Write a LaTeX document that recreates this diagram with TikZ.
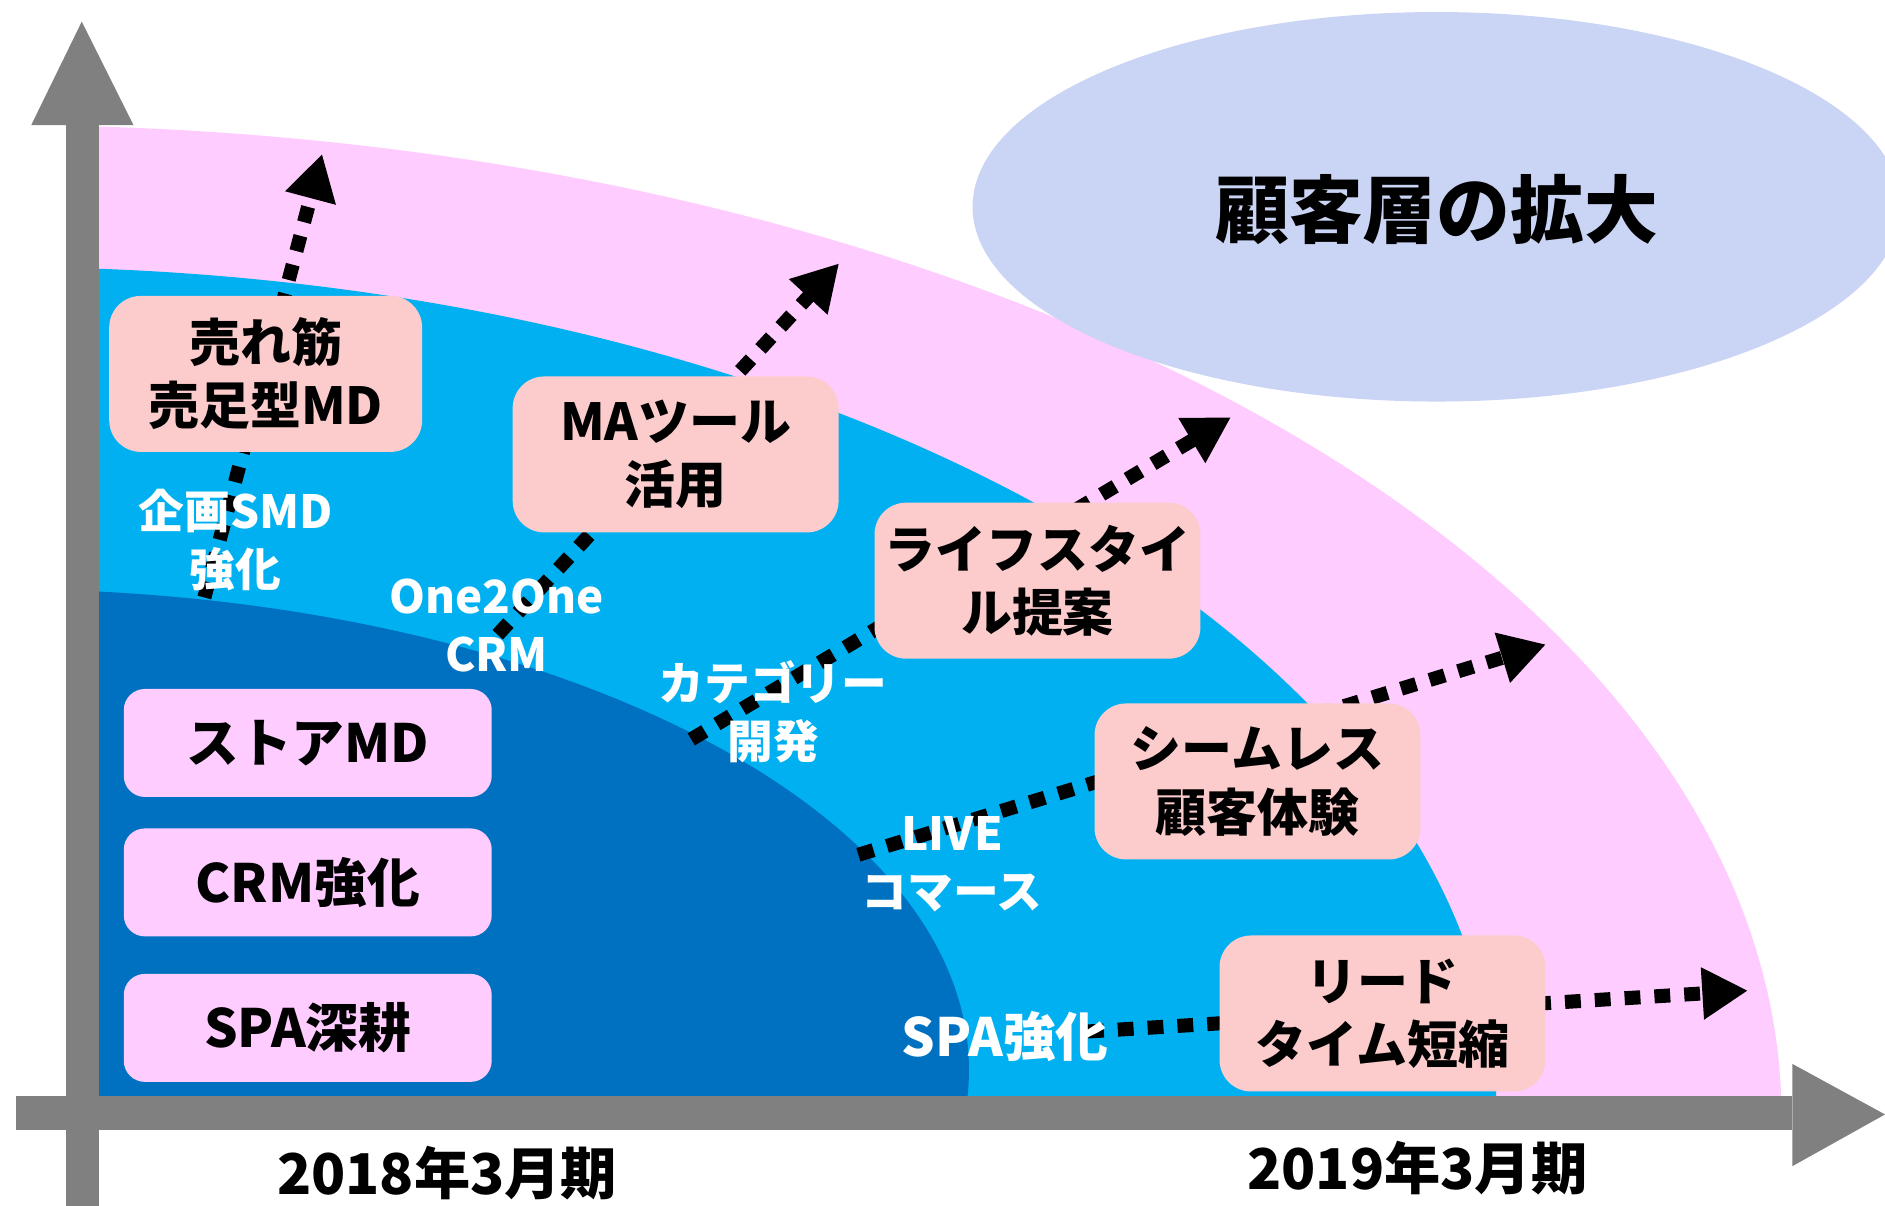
\documentclass[tikz,border=0pt]{standalone}
\usepackage{fontspec}
\setmainfont{Noto Sans CJK JP}[BoldFont={Noto Sans CJK JP Black}]
\usetikzlibrary{arrows.meta}
\definecolor{pinkband}{RGB}{255,204,255}
\definecolor{skyband}{RGB}{0,176,240}
\definecolor{deepband}{RGB}{0,112,192}
\definecolor{salmonbox}{RGB}{252,204,204}
\definecolor{axisgray}{RGB}{128,128,128}
\definecolor{cloudblue}{RGB}{202,212,244}
\begin{document}
\begin{tikzpicture}[x=0.012022cm, y=-0.012022cm,
    plan/.style={rounded corners=9pt, fill=salmonbox, minimum width=32.6mm, minimum height=15.6mm,
      inner xsep=1pt, align=center, font=\bfseries\fontsize{14.5pt}{18pt}\selectfont},
    base/.style={rounded corners=6pt, fill=pinkband, minimum width=36.8mm, minimum height=10.8mm,
      font=\bfseries\fontsize{15pt}{18pt}\selectfont},
    theme/.style={text=white, align=center, font=\bfseries\fontsize{13pt}{16.5pt}\selectfont},
    period/.style={font=\bfseries\fontsize{16pt}{18pt}\selectfont},
    growline/.style={line width=4pt, dash pattern=on 4.5pt off 4pt, -{Triangle[length=13pt,width=14pt]}}]
        \useasboundingbox (0,0) rectangle (1568,1003);
        % bands
        \begin{scope}
          \clip (82,0) rectangle (1568,912);
          \fill [pinkband] (0,930) ellipse [x radius=1482, y radius=826];
          \fill [skyband] (0,930) ellipse [x radius=1245, y radius=708];
          \fill [deepband] (0,890) ellipse [x radius=806, y radius=400];
        \end{scope}
        \fill [cloudblue] (1195,172) ellipse [x radius=386, y radius=162];
        \node [font=\bfseries\fontsize{21pt}{24pt}\selectfont] (reach) at (1195,174) {顧客層の拡大};
        % dotted arrows
        \coordinate (s1) at (170,497); \coordinate (t1) at (268,128);
        \coordinate (s2) at (414,528); \coordinate (t2) at (698,219);
        \coordinate (s3) at (575,615); \coordinate (t3) at (1024,347);
        \coordinate (s4) at (714,711); \coordinate (t4) at (1286,536);
        \coordinate (s5) at (905,858); \coordinate (t5) at (1454,824);
        \foreach \i in {1,...,5}
          \draw [growline] (s\i) -- (t\i);
        % boxes
        \node [plan, minimum width=31.3mm] (hit) at (221,311) {売れ筋\\売足型MD};
        \node [plan] (matool) at (562,378) {MAツール\\活用};
        \node [plan] (life) at (863,483) {ライフスタイ\\ル提案};
        \node [plan] (seam) at (1046,650) {シームレス\\顧客体験};
        \node [plan] (lead) at (1150,843) {リード\\タイム短縮};
        \node [base] (store) at (256,618) {ストアMD};
        \node [base] (crm) at (256,734) {CRM強化};
        \node [base] (spa) at (256,855) {SPA深耕};
        % white labels
        \node [theme] (smd) at (196,449) {企画SMD\\強化};
        \node [theme] (one) at (413,520) {One2One\\CRM};
        \node [theme] (cat) at (643,592) {カテゴリー\\開発};
        \node [theme] (live) at (792,719) {LIVE\\コマース};
        \node [theme, font=\bfseries\fontsize{15pt}{18pt}\selectfont] (spaup) at (836,862) {SPA強化};
        % axes
        \fill [axisgray] (55,104) rectangle (82,1003);
        \fill [axisgray] (26,104) -- (111,104) -- (68,18) -- cycle;
        \fill [axisgray] (13,912) rectangle (1491,940);
        \fill [axisgray] (1491,885) -- (1491,970) -- (1568,927) -- cycle;
        \node [period] (fy18) at (372,976) {2018年3月期};
        \node [period] (fy19) at (1179,972) {2019年3月期};
      \end{tikzpicture}
\end{document}
